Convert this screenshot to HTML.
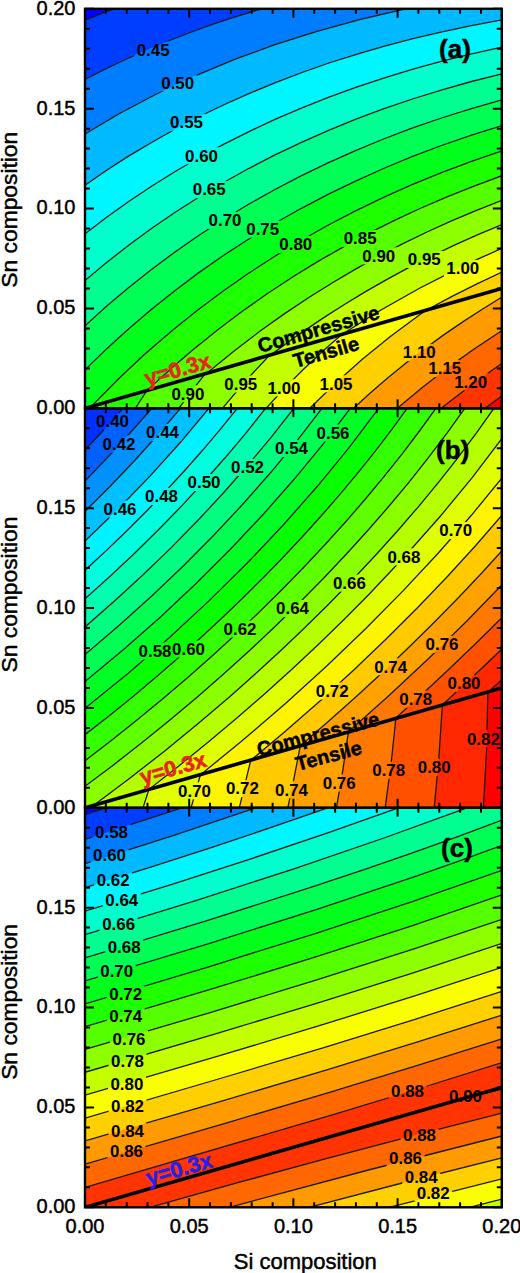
<!DOCTYPE html><html><head><meta charset="utf-8"><style>
html,body{margin:0;padding:0;background:#fff;}
svg{display:block}
text{font-family:"Liberation Sans", sans-serif;}
.lb{font-size:16.9px;font-weight:bold;text-anchor:middle;fill:#000;}
.tk{font-size:20px;fill:#000;stroke:#000;stroke-width:0.45px;}
.at{font-size:22px;fill:#000;stroke:#000;stroke-width:0.45px;}
.pl{font-size:26px;font-weight:bold;fill:#000;stroke:#000;stroke-width:0.5px;}
.ct{font-size:20px;font-weight:bold;fill:#000;stroke:#000;stroke-width:0.5px;}
.yx{font-size:22px;font-weight:bold;}
</style></head><body><svg width="520" height="1273" viewBox="0 0 520 1273"><rect width="520" height="1273" fill="#fff"/>
<clipPath id="clipa"><rect x="85.0" y="8.8" width="416.8" height="399.5"/></clipPath>
<mask id="maska" maskUnits="userSpaceOnUse" x="0" y="0" width="520" height="1273"><rect x="0" y="0" width="520" height="1273" fill="#fff"/><rect x="134.2" y="41.5" width="37.9" height="17" fill="#000"/><rect x="158.8" y="74.2" width="37.9" height="17" fill="#000"/><rect x="167.6" y="113.8" width="37.9" height="17" fill="#000"/><rect x="182.6" y="147.3" width="37.9" height="17" fill="#000"/><rect x="190.3" y="181.1" width="37.9" height="17" fill="#000"/><rect x="206.1" y="211.9" width="37.9" height="17" fill="#000"/><rect x="243.8" y="220.7" width="37.9" height="17" fill="#000"/><rect x="276.9" y="236.1" width="37.9" height="17" fill="#000"/><rect x="341.2" y="229.9" width="37.9" height="17" fill="#000"/><rect x="359.9" y="247.3" width="37.9" height="17" fill="#000"/><rect x="405.4" y="251.0" width="37.9" height="17" fill="#000"/><rect x="443.9" y="260.0" width="37.9" height="17" fill="#000"/><rect x="169.0" y="385.2" width="37.9" height="17" fill="#000"/><rect x="221.9" y="375.5" width="37.9" height="17" fill="#000"/><rect x="265.1" y="379.3" width="37.9" height="17" fill="#000"/><rect x="317.1" y="375.3" width="37.9" height="17" fill="#000"/><rect x="400.4" y="344.1" width="37.9" height="17" fill="#000"/><rect x="425.9" y="360.0" width="37.9" height="17" fill="#000"/><rect x="451.7" y="373.3" width="37.9" height="17" fill="#000"/></mask>
<g clip-path="url(#clipa)">
<rect x="85.0" y="8.8" width="416.8" height="399.5" fill="#0000ff"/>
<path d="M113 9.1L113.9 8.8 502 8.8 502 408.3 85 408.3 85 20.1 112.5 9.3Z" fill="#003eff" fill-rule="evenodd"/>
<path d="M260 9.2L261.4 8.8 502 8.8 502 408.3 85 408.3 85 79.4 105 69.2 125.8 59.3 147 49.8 168.5 40.9 190.5 32.4 213 24.3 236 16.6 259.7 9.3Z" fill="#007cff" fill-rule="evenodd"/>
<path d="M403.5 9.3L405.7 8.8 502 8.8 502 408.3 85 408.3 85 134 120 113.3 156 94.3 194 76.3 233 60.1 273.5 45.2 315.5 31.7 358.7 19.8 403.4 9.3Z" fill="#00b9ff" fill-rule="evenodd"/>
<path d="M500 20.2L502 19.9 502 408.3 85 408.3 85 185.2 106.7 170.3 129 155.9 152 142.2 175.5 129 199.5 116.5 224 104.7 249 93.5 274.5 83 300.5 73 327.5 63.5 355 54.7 383 46.5 411.5 39 440.5 32.1 470 25.9 499.6 20.3Z" fill="#00f6ff" fill-rule="evenodd"/>
<path d="M501.5 47.2L502 47.1 502 408.3 85 408.3 85 233.8 106.7 217.3 129.1 201.3 152 186 175.5 171.3 199.5 157.4 224 144.1 249 131.6 275 119.4 301 108.2 328 97.5 355.5 87.4 383.5 78.1 412 69.4 441 61.4 471 54 501.2 47.3Z" fill="#00ffcc" fill-rule="evenodd"/>
<path d="M502 73.8L502 408.3 85 408.3 85 280.5 109 260.6 129.9 244.3 151.1 228.8 173 213.8 195.4 199.3 218 185.7 241.5 172.4 265.3 159.8 289.7 147.8 314.5 136.4 340 125.6 365.5 115.5 392 105.9 418.5 97.1 446 88.6 473.5 81 502 73.8Z" fill="#00ff90" fill-rule="evenodd"/>
<path d="M501 100.2L502 99.9 502 408.3 85 408.3 85 325.8 104 308.5 123.5 291.8 143.3 275.8 163.6 260.3 182 247 201 234 220 221.7 239.5 209.7 259.5 198 279.5 187 300 176.4 321 166.1 342.4 156.3 364 146.9 386 138 408 129.7 430.5 121.7 453.5 114.1 477 107 500.7 100.3Z" fill="#00ff55" fill-rule="evenodd"/>
<path d="M501.5 125.8L502 125.6 502 408.3 85 408.3 85 369.9 100.9 354.3 116.9 339.3 133.5 324.5 150.2 310.3 167.5 296.3 185 282.9 202.9 269.8 221 257.2 253 236.4 285.5 217.1 319.3 198.8 353.8 181.8 389.5 165.9 426 151.3 463 138 501.4 125.8Z" fill="#00ff1b" fill-rule="evenodd"/>
<path d="M501 151.2L502 150.9 502 408.3 91.8 408.3 92.9 406.3 91.9 405.8 120.1 377.3 145.5 353.6 172 330.7 196.5 311 221.4 292.3 247.1 274.3 273.5 257.1 300 241 327 225.8 354.5 211.4 382.5 197.8 411 185.1 440.5 173 470.5 161.7 500.7 151.3ZM91.5 406.2L91.4 406.3Z" fill="#1eff00" fill-rule="evenodd"/>
<path d="M502 175.7L502 408.3 135.3 408.3 146.7 390.8 172 367.8 193.6 349.3 217.5 330 242.3 311.3 267.5 293.6 293.5 276.5 317.5 261.7 342.5 247.3 368 233.6 393.7 220.8 420 208.5 446.5 197.1 474 186.1 501.8 175.8Z" fill="#56ff00" fill-rule="evenodd"/>
<path d="M502 200.3L502 408.3 178.8 408.3 191.8 390.8 205.2 373.8 207.4 372.8 233.5 351.4 260.5 330.8 285 313.4 310 296.7 332.5 282.7 355.5 269.1 378.7 256.3 402.5 243.9 427 232 451.5 220.9 476.5 210.3 501.9 200.3Z" fill="#8dff00" fill-rule="evenodd"/>
<path d="M501.5 224.7L502 224.5 502 408.3 222.4 408.3 245.7 380.8 269.5 355.3 270.9 354.8 296.5 336.1 322.7 318.3 343.5 305 365 291.9 387 279.4 409 267.5 431.5 256 454.5 245.1 477.5 234.7 501.2 224.8Z" fill="#c4ff00" fill-rule="evenodd"/>
<path d="M501.5 248.6L502 248.4 502 408.3 266.1 408.3 284 388.9 302.5 370.2 321.5 352.3 341.4 334.8 380.5 310.3 419.3 288.3 459.5 267.8 501.1 248.8Z" fill="#f9ff00" fill-rule="evenodd"/>
<path d="M501.5 272.3L502 272.1 502 408.3 309.8 408.3 335.4 383.3 362 359.6 389.5 337.2 418.5 315.6 426.1 310.3 450.5 297.2 476 284.3 501.5 272.3Z" fill="#ffd000" fill-rule="evenodd"/>
<path d="M502 297.1L502 408.3 353.5 408.3 370.5 392.8 387.9 377.8 405.7 363.3 423.9 349.3 442.5 335.8 462 322.4 481.5 309.7 501.7 297.3Z" fill="#ff9b00" fill-rule="evenodd"/>
<path d="M501.5 330.8L502 330.5 502 408.3 397.3 408.3 422 387.7 447.5 368 474 349 501.5 330.8Z" fill="#ff6700" fill-rule="evenodd"/>
<path d="M501.5 363.7L502 363.3 502 408.3 441.1 408.3 470.5 385.6 501.3 363.8Z" fill="#ff3400" fill-rule="evenodd"/>
<path d="M501.5 396.2L502 395.8 502 408.3 485 408.3 501.3 396.3Z" fill="#ff0000" fill-rule="evenodd"/>
<path d="M85 20.1L113.9 8.8M85 79.4L105.5 69 126.5 59 147.5 49.6 169.5 40.5 191.5 32 214.5 23.7 237.5 16.1 261.4 8.8M85 134L120 113.3 156.5 94 194.5 76.1 234 59.7 275 44.7 317 31.3 360.5 19.3 405.7 8.8M85 185.2L106.7 170.3 129 155.9 152 142.2 175.5 129 199.5 116.5 224.5 104.5 250 93.1 275.5 82.6 302 72.5 329 63 356.5 54.3 384.5 46.1 413 38.6 442 31.8 471.5 25.6 502 19.9M85 233.8L106.7 217.3 129.1 201.3 152 186 175.6 171.3 199.7 157.3 224.5 143.9 249.5 131.3 275.5 119.2 302 107.8 329 97.1 356.5 87.1 384.5 77.8 413 69.1 442 61.1 471.7 53.8 502 47.1M85 280.5L106.9 262.3 129 245 151.8 228.3 175.2 212.3 199.5 196.8 224 182.2 249.1 168.3 275 154.9 301.5 142.3 328.5 130.4 356 119.2 384 108.7 412.5 99 442 89.8 471.5 81.5 502 73.8M85 325.8L106.5 306.3 128.5 287.7 151.5 269.4 175 252 199 235.3 223.5 219.5 248.6 204.3 274.5 189.7 301 175.9 328 162.8 355.5 150.6 383.5 139 412 128.2 441.5 118 471.5 108.6 502 99.9M85 369.9L106.5 348.9 128.5 328.9 151 309.7 174.5 290.9 198.5 272.9 223 255.8 248 239.5 274 223.7 300.5 208.8 327.5 194.6 355 181.3 383.5 168.5 412 156.7 441.5 145.5 471.5 135.2 502 125.6M91.8 408.3L92.9 406.3 91.9 405.8 120.1 377.3 145.5 353.6 172 330.7 196.5 311 221.5 292.2 247.5 274 274 256.8 300.5 240.7 327.5 225.5 355 211.1 383 197.6 412 184.7 441.5 172.6 471.5 161.3 502 150.9M91.5 406.2L91.4 406.3ZM135.3 408.3L146.7 390.8 172 367.8 193.6 349.3 217.5 330 242.3 311.3 267.9 293.3 293.8 276.3 318 261.4 343 247.1 368 233.6 394 220.6 420 208.5 447 196.9 474 186.1 502 175.7M178.8 408.3L191.8 390.8 205.2 373.8 207.4 372.8 233.5 351.4 260.5 330.8 285 313.4 310 296.7 332.5 282.7 355.5 269.1 378.7 256.3 402.5 243.9 427 232 451.5 220.9 476.5 210.3 502 200.3M222.4 408.3L245.7 380.8 269.5 355.3 270.9 354.8 296.5 336.1 323 318.1 344 304.7 365.5 291.6 387.5 279.1 409.5 267.2 432 255.8 455 244.8 478.5 234.3 502 224.5M266.1 408.3L284 388.9 302.5 370.2 321.5 352.3 341.4 334.8 380.5 310.3 419.5 288.2 460 267.6 481 257.7 502 248.4M309.8 408.3L335.5 383.2 362.3 359.3 390 336.8 419 315.3 426.1 310.3 452 296.4 477 283.8 502 272.1M353.5 408.3L370.5 392.8 387.9 377.8 405.7 363.3 424 349.2 443 335.4 462 322.4 481.5 309.7 502 297.1M397.3 408.3L422 387.7 448 367.6 474.5 348.7 502 330.5M441.1 408.3L471 385.3 502 363.3M485 408.3L502 395.8" fill="none" stroke="#1a1a1a" stroke-width="1.3" mask="url(#maska)"/>
<line x1="85.0" y1="408.3" x2="501.8" y2="288.5" stroke="#000" stroke-width="3.6"/>
</g>
<text x="153.1" y="55.8" class="lb">0.45</text>
<text x="177.7" y="88.5" class="lb">0.50</text>
<text x="186.5" y="128.1" class="lb">0.55</text>
<text x="201.5" y="161.6" class="lb">0.60</text>
<text x="209.2" y="195.4" class="lb">0.65</text>
<text x="225.0" y="226.2" class="lb">0.70</text>
<text x="262.7" y="235.0" class="lb">0.75</text>
<text x="295.8" y="250.4" class="lb">0.80</text>
<text x="360.1" y="244.2" class="lb">0.85</text>
<text x="378.8" y="261.6" class="lb">0.90</text>
<text x="424.3" y="265.3" class="lb">0.95</text>
<text x="462.8" y="274.3" class="lb">1.00</text>
<text x="187.9" y="399.5" class="lb">0.90</text>
<text x="240.8" y="389.8" class="lb">0.95</text>
<text x="284.0" y="393.6" class="lb">1.00</text>
<text x="336.0" y="389.6" class="lb">1.05</text>
<text x="419.3" y="358.4" class="lb">1.10</text>
<text x="444.8" y="374.3" class="lb">1.15</text>
<text x="470.6" y="387.6" class="lb">1.20</text>
<clipPath id="clipb"><rect x="85.0" y="408.3" width="416.8" height="399.5"/></clipPath>
<mask id="maskb" maskUnits="userSpaceOnUse" x="0" y="0" width="520" height="1273"><rect x="0" y="0" width="520" height="1273" fill="#fff"/><rect x="93.6" y="413.0" width="37.9" height="17" fill="#000"/><rect x="100.1" y="435.5" width="37.9" height="17" fill="#000"/><rect x="143.6" y="424.0" width="37.9" height="17" fill="#000"/><rect x="101.1" y="500.5" width="37.9" height="17" fill="#000"/><rect x="142.6" y="488.0" width="37.9" height="17" fill="#000"/><rect x="185.1" y="474.0" width="37.9" height="17" fill="#000"/><rect x="228.6" y="459.0" width="37.9" height="17" fill="#000"/><rect x="272.6" y="440.0" width="37.9" height="17" fill="#000"/><rect x="314.1" y="424.5" width="37.9" height="17" fill="#000"/><rect x="136.1" y="642.5" width="37.9" height="17" fill="#000"/><rect x="169.6" y="640.5" width="37.9" height="17" fill="#000"/><rect x="221.1" y="620.5" width="37.9" height="17" fill="#000"/><rect x="273.6" y="600.0" width="37.9" height="17" fill="#000"/><rect x="330.5" y="574.6" width="37.9" height="17" fill="#000"/><rect x="385.0" y="548.4" width="37.9" height="17" fill="#000"/><rect x="436.8" y="522.1" width="37.9" height="17" fill="#000"/><rect x="313.3" y="682.5" width="37.9" height="17" fill="#000"/><rect x="371.7" y="658.2" width="37.9" height="17" fill="#000"/><rect x="423.1" y="635.8" width="37.9" height="17" fill="#000"/><rect x="396.8" y="690.7" width="37.9" height="17" fill="#000"/><rect x="445.1" y="675.0" width="37.9" height="17" fill="#000"/><rect x="175.6" y="782.3" width="37.9" height="17" fill="#000"/><rect x="223.5" y="780.1" width="37.9" height="17" fill="#000"/><rect x="272.6" y="781.3" width="37.9" height="17" fill="#000"/><rect x="320.3" y="774.5" width="37.9" height="17" fill="#000"/><rect x="369.8" y="761.8" width="37.9" height="17" fill="#000"/><rect x="415.3" y="758.9" width="37.9" height="17" fill="#000"/><rect x="464.5" y="730.2" width="37.9" height="17" fill="#000"/></mask>
<g clip-path="url(#clipb)">
<rect x="85.0" y="408.3" width="416.8" height="399.5" fill="#0030ff"/>
<path d="M123 408.4L502 408.3 502 807.8 85 807.8 85 450 104 429.7 122.6 408.8Z" fill="#0061ff" fill-rule="evenodd"/>
<path d="M151.5 408.7L151.9 408.3 502 408.3 502 807.8 85 807.8 85 481.1 119.2 445.3 151.4 408.8Z" fill="#0091ff" fill-rule="evenodd"/>
<path d="M180.5 408.3L502 408.3 502 807.8 85 807.8 85 511.4 110.2 486.3 134.5 460.8 157.9 434.8 180.5 408.3Z" fill="#00c1ff" fill-rule="evenodd"/>
<path d="M209 408.3L502 408.3 502 807.8 85 807.8 85 541.1 118.4 508.8 150 476.1 180.5 442.3 208.9 408.3Z" fill="#00f1ff" fill-rule="evenodd"/>
<path d="M237 408.7L237.3 408.3 502 408.3 502 807.8 85 807.8 85 570.2 106 550.9 126.4 531.3 146.4 511.3 165.5 491.4 184.5 470.8 202.5 450.4 219.9 429.8 236.9 408.8Z" fill="#00ffde" fill-rule="evenodd"/>
<path d="M265.5 408.4L502 408.3 502 807.8 85 807.8 85 598.8 110.1 576.3 134.6 553.3 158.5 529.8 181.3 506.3 203.5 482.3 225 458 245.5 433.5 265.2 408.8Z" fill="#00ffaf" fill-rule="evenodd"/>
<path d="M293.5 408.7L293.8 408.3 502 408.3 502 807.8 85 807.8 85 626.9 114.5 601.1 143.1 574.8 171 547.9 197.5 520.8 223.1 493.3 247.8 465.3 271.1 437.3 293.4 408.8Z" fill="#00ff81" fill-rule="evenodd"/>
<path d="M322 408.4L502 408.3 502 807.8 85 807.8 85 654.5 118.7 625.8 151.5 596.3 183 566.3 213.7 535.3 242.7 504.3 270.5 472.8 296.9 440.8 321.7 408.8Z" fill="#00ff53" fill-rule="evenodd"/>
<path d="M350 408.8L350.3 408.3 502 408.3 502 807.8 85 807.8 85 681.6 123.3 649.8 160.5 616.9 196.3 583.3 230.4 549.3 262.9 514.8 293.7 479.8 322.9 444.3 350 408.8Z" fill="#00ff25" fill-rule="evenodd"/>
<path d="M378.5 408.6L378.7 408.3 502 408.3 502 807.8 85 807.8 85 708.3 127.5 673.8 169.1 637.8 209 600.9 247.1 563.3 283 525.3 317 486.8 348.9 447.8 378.4 408.8Z" fill="#08ff00" fill-rule="evenodd"/>
<path d="M407 408.6L407.2 408.3 502 408.3 502 807.8 85 807.8 85 734.7 109 715.9 132.5 696.9 155.5 677.6 178.4 657.8 200.7 637.8 222.2 617.8 243.6 597.3 264.2 576.8 284.1 556.3 303.7 535.3 322.6 514.3 340.8 493.3 358.3 472.3 375.1 451.3 391.1 430.3 406.9 408.8Z" fill="#34ff00" fill-rule="evenodd"/>
<path d="M436 408.3L502 408.3 502 807.8 85 807.8 85 760.7 111 740.7 137 720.1 162.5 699.1 187.5 677.8 211.8 656.3 235.8 634.3 259 612.3 281.8 589.8 303.8 567.3 324.9 544.8 345.5 522 365.2 499.3 384 476.7 402.2 453.8 419.5 431 435.9 408.3Z" fill="#60ff00" fill-rule="evenodd"/>
<path d="M464.5 408.7L464.8 408.3 502 408.3 502 807.8 85 807.8 85 786.3 113.5 764.9 141.5 743 169 720.8 196.4 697.8 223 674.6 249 651.1 274.3 627.3 299 603.2 322.6 579.3 345.8 554.8 367.6 530.8 388.9 506.3 409.3 481.8 428.5 457.6 446.9 433.3 464.4 408.8Z" fill="#8bff00" fill-rule="evenodd"/>
<path d="M494 408.3L502 408.3 502 807.8 95.1 807.8 96.2 804.8 95.5 804.5 95 805 94.4 804.8 129.1 778.8 163.5 751.9 197.3 724.3 230 696.4 255.5 673.8 280 651.3 303.7 628.8 327.1 605.8 351.1 581.3 374.6 556.3 397 531.5 418.3 506.8 438.9 481.8 458.2 457.3 476.5 432.8 493.9 408.3Z" fill="#b6ff00" fill-rule="evenodd"/>
<path d="M502 438.5L502 807.8 143 807.8 149 789.3 178.5 766.2 208 742.3 236.6 718.3 264.5 694 291.9 669.3 318.5 644.4 344.3 619.3 369 594.4 405.8 555.3 440.3 516.3 472.4 477.3 501.8 438.8Z" fill="#e0ff00" fill-rule="evenodd"/>
<path d="M502 477.9L502 807.8 191.1 807.8 200.4 774.8 241.5 741.3 285.5 703.4 326.5 666.2 366.1 628.3 403.2 590.8 438.1 553.3 471 515.8 501.7 478.3Z" fill="#fff400" fill-rule="evenodd"/>
<path d="M502 515.3L502 807.8 239.3 807.8 250.7 760.3 283.6 732.8 320 700.9 354 669.8 386.4 638.8 417.5 607.8 447.2 576.8 475.5 545.8 502 515.3Z" fill="#ffcb00" fill-rule="evenodd"/>
<path d="M502 550.8L502 807.8 287.8 807.8 293.5 780.8 300.3 745.8 328 721.8 355.5 697.3 381.6 673.3 407.4 648.8 432.3 624.3 456.4 599.8 479.6 575.3 501.6 551.3Z" fill="#ffa200" fill-rule="evenodd"/>
<path d="M502 584.8L502 807.8 336.4 807.8 342.9 769.8 348.4 731.8 389.3 695.3 428.9 658.3 466.1 621.8 501.6 585.3Z" fill="#ff7900" fill-rule="evenodd"/>
<path d="M502 617.5L502 807.8 385.2 807.8 391.6 758.8 395 726.8 395.7 718.8 395.5 718.3 423.5 693 450.5 667.8 476.5 642.8 501.7 617.8Z" fill="#ff5100" fill-rule="evenodd"/>
<path d="M502 649L502 807.8 434.2 807.8 438.8 758.8 442.4 704.8 472.8 676.8 501.7 649.3Z" fill="#ff2800" fill-rule="evenodd"/>
<path d="M502 679.5L502 807.8 483.4 807.8 486.5 751.3 487.9 692.3 501.7 679.8Z" fill="#ff0000" fill-rule="evenodd"/>
<path d="M85 450L104.4 429.3 123.1 408.3M85 481.1L119.2 445.3 151.9 408.3M85 511.4L110.2 486.3 134.5 460.8 157.9 434.8 180.5 408.3M85 541.1L118.4 508.8 150 476.1 180.5 442.3 208.9 408.3M85 570.2L106 550.9 126.4 531.3 146.4 511.3 165.6 491.3 184.5 470.8 202.6 450.3 220.3 429.3 237.3 408.3M85 598.8L110.1 576.3 134.6 553.3 158.5 529.8 181.5 506.1 203.5 482.3 225.1 457.8 245.7 433.3 265.6 408.3M85 626.9L114.5 601.1 143.1 574.8 171 547.9 197.5 520.8 223.1 493.3 248 465 271.5 436.8 293.8 408.3M85 654.5L118.7 625.8 151.5 596.3 183.5 565.8 214 535 243.2 503.8 270.9 472.3 297.3 440.3 322 408.3M85 681.6L123.3 649.8 160.5 616.9 196.3 583.3 230.4 549.3 263.3 514.3 294.1 479.3 323.3 443.8 350.3 408.3M85 708.3L128 673.4 169.5 637.4 209.5 600.4 247.5 562.8 283.5 524.8 317.4 486.3 349.3 447.3 378.7 408.3M85 734.7L109 715.9 132.5 696.9 155.5 677.6 178.4 657.8 200.7 637.8 222.5 617.5 243.6 597.3 264.5 576.5 284.6 555.8 304.2 534.8 323.1 513.8 341.2 492.8 358.7 471.8 375.5 450.8 391.5 429.8 407.2 408.3M85 760.7L111 740.7 137 720.1 162.5 699.1 187.5 677.8 211.8 656.3 235.8 634.3 259 612.3 281.8 589.8 303.8 567.3 324.9 544.8 345.5 522 365.2 499.3 384 476.7 402.2 453.8 419.5 431 435.9 408.3M85 786.3L113.5 764.9 141.5 743 169 720.8 196.5 697.7 223.3 674.3 249.3 650.8 274.8 626.8 299.4 602.8 323.1 578.8 346.2 554.3 368 530.3 389.3 505.8 409.7 481.3 429 456.9 447.2 432.8 464.8 408.3M95.1 807.8L96.2 804.8 95.5 804.5 95 805 94.4 804.8 129.1 778.8 163.5 751.9 197.3 724.3 230 696.4 255.5 673.8 280 651.3 303.7 628.8 327.1 605.8 351.1 581.3 374.6 556.3 397 531.5 418.3 506.8 438.9 481.8 458.2 457.3 476.5 432.8 493.9 408.3M143 807.8L149 789.3 178.5 766.2 208 742.3 236.6 718.3 264.5 694 291.9 669.3 318.6 644.3 344.3 619.3 369.1 594.3 405.8 555.3 440.3 516.3 472.4 477.3 502 438.5M191.1 807.8L200.4 774.8 241.5 741.3 285.5 703.4 326.5 666.2 366.1 628.3 403.5 590.4 438.6 552.8 471.4 515.3 502 477.9M239.3 807.8L250.7 760.3 283.6 732.8 320 700.9 354 669.8 386.4 638.8 417.5 607.8 447.2 576.8 475.5 545.8 502 515.3M287.8 807.8L293.5 780.8 300.3 745.8 328 721.8 355.5 697.3 382.1 672.8 407.9 648.3 432.8 623.8 456.9 599.3 480.1 574.8 502 550.8M336.4 807.8L342.9 769.8 348.4 731.8 389.3 695.3 428.9 658.3 466.6 621.3 502 584.8M385.2 807.8L391.6 758.8 395 726.8 395.7 718.8 395.5 718.3 423.5 693 450.5 667.8 476.5 642.8 502 617.5M434.2 807.8L438.8 758.8 442.4 704.8 472.8 676.8 502 649M483.4 807.8L486.5 751.3 487.9 692.3 502 679.5" fill="none" stroke="#1a1a1a" stroke-width="1.3" mask="url(#maskb)"/>
<line x1="85.0" y1="807.8" x2="501.8" y2="687.9" stroke="#000" stroke-width="3.6"/>
</g>
<text x="112.5" y="427.3" class="lb">0.40</text>
<text x="119.0" y="449.8" class="lb">0.42</text>
<text x="162.5" y="438.3" class="lb">0.44</text>
<text x="120.0" y="514.8" class="lb">0.46</text>
<text x="161.5" y="502.3" class="lb">0.48</text>
<text x="204.0" y="488.3" class="lb">0.50</text>
<text x="247.5" y="473.3" class="lb">0.52</text>
<text x="291.5" y="454.3" class="lb">0.54</text>
<text x="333.0" y="438.8" class="lb">0.56</text>
<text x="155.0" y="656.8" class="lb">0.58</text>
<text x="188.5" y="654.8" class="lb">0.60</text>
<text x="240.0" y="634.8" class="lb">0.62</text>
<text x="292.5" y="614.3" class="lb">0.64</text>
<text x="349.4" y="588.9" class="lb">0.66</text>
<text x="403.9" y="562.7" class="lb">0.68</text>
<text x="455.7" y="536.4" class="lb">0.70</text>
<text x="332.2" y="696.8" class="lb">0.72</text>
<text x="390.6" y="672.5" class="lb">0.74</text>
<text x="442.0" y="650.1" class="lb">0.76</text>
<text x="415.7" y="705.0" class="lb">0.78</text>
<text x="464.0" y="689.3" class="lb">0.80</text>
<text x="194.5" y="796.6" class="lb">0.70</text>
<text x="242.4" y="794.4" class="lb">0.72</text>
<text x="291.5" y="795.6" class="lb">0.74</text>
<text x="339.2" y="788.8" class="lb">0.76</text>
<text x="388.7" y="776.1" class="lb">0.78</text>
<text x="434.2" y="773.2" class="lb">0.80</text>
<text x="483.4" y="744.5" class="lb">0.82</text>
<clipPath id="clipc"><rect x="85.0" y="807.8" width="416.8" height="399.5"/></clipPath>
<mask id="maskc" maskUnits="userSpaceOnUse" x="0" y="0" width="520" height="1273"><rect x="0" y="0" width="520" height="1273" fill="#fff"/><rect x="92.6" y="824.0" width="37.9" height="17" fill="#000"/><rect x="90.6" y="846.5" width="37.9" height="17" fill="#000"/><rect x="94.2" y="871.7" width="37.9" height="17" fill="#000"/><rect x="102.9" y="892.1" width="37.9" height="17" fill="#000"/><rect x="99.7" y="915.7" width="37.9" height="17" fill="#000"/><rect x="105.2" y="938.8" width="37.9" height="17" fill="#000"/><rect x="97.8" y="962.9" width="37.9" height="17" fill="#000"/><rect x="106.8" y="986.0" width="37.9" height="17" fill="#000"/><rect x="106.8" y="1007.2" width="37.9" height="17" fill="#000"/><rect x="110.1" y="1030.3" width="37.9" height="17" fill="#000"/><rect x="108.6" y="1052.5" width="37.9" height="17" fill="#000"/><rect x="108.0" y="1075.7" width="37.9" height="17" fill="#000"/><rect x="108.6" y="1097.9" width="37.9" height="17" fill="#000"/><rect x="108.6" y="1122.7" width="37.9" height="17" fill="#000"/><rect x="107.6" y="1142.5" width="37.9" height="17" fill="#000"/><rect x="388.6" y="1082.3" width="37.9" height="17" fill="#000"/><rect x="446.6" y="1087.8" width="37.9" height="17" fill="#000"/><rect x="400.6" y="1126.9" width="37.9" height="17" fill="#000"/><rect x="386.6" y="1150.0" width="37.9" height="17" fill="#000"/><rect x="402.3" y="1168.4" width="37.9" height="17" fill="#000"/><rect x="414.3" y="1184.4" width="37.9" height="17" fill="#000"/></mask>
<g clip-path="url(#clipc)">
<rect x="85.0" y="807.8" width="416.8" height="399.5" fill="#0000ff"/>
<path d="M105 808.2L106.2 807.8 502 807.8 502 1207.3 85 1207.3 85 814.7 104.6 808.3Z" fill="#003eff" fill-rule="evenodd"/>
<path d="M180.5 808.2L181.8 807.8 502 807.8 502 1207.3 85 1207.3 85 839.4 180.3 808.3Z" fill="#007cff" fill-rule="evenodd"/>
<path d="M254.5 808.2L255.7 807.8 502 807.8 502 1207.3 85 1207.3 85 863.7 173.5 835.4 254.3 808.3Z" fill="#00b9ff" fill-rule="evenodd"/>
<path d="M326.5 808.3L327.8 807.8 502 807.8 502 1207.3 85 1207.3 85 887.6 151.5 866.8 213 846.9 271.5 827.4 326.4 808.3Z" fill="#00f6ff" fill-rule="evenodd"/>
<path d="M397 808.3L398.3 807.8 502 807.8 502 1207.3 85 1207.3 85 911.2 173 884 253 858.1 327.5 833 396.9 808.3Z" fill="#00ffcc" fill-rule="evenodd"/>
<path d="M466 808.2L467 807.8 502 807.8 502 1207.3 85 1207.3 85 934.7 195 900.8 293 869.2 383 838.4 465.7 808.3Z" fill="#00ff90" fill-rule="evenodd"/>
<path d="M502 820.1L502 1207.3 85 1207.3 85 957.9 206.6 920.8 314.1 886.3 364 869.6 412 853 457.5 836.7 501.6 820.3Z" fill="#00ff55" fill-rule="evenodd"/>
<path d="M501 845.8L502 845.4 502 1207.3 85 1207.3 85 980.9 207.5 943.9 314.5 910.1 411.5 877.7 457 861.7 501 845.8Z" fill="#00ff1b" fill-rule="evenodd"/>
<path d="M501 870.7L502 870.3 502 1207.3 85 1207.3 85 1003.9 208 967 315 933.6 411.8 901.8 500.7 870.8Z" fill="#1eff00" fill-rule="evenodd"/>
<path d="M501 895.3L502 894.9 502 1207.3 85 1207.3 85 1026.7 209.3 989.8 316.1 956.8 412.5 925.6 501 895.3Z" fill="#56ff00" fill-rule="evenodd"/>
<path d="M502 919.3L502 1207.3 85 1207.3 85 1049.5 211 1012.3 317.5 979.7 414 948.9 502 919.3Z" fill="#8dff00" fill-rule="evenodd"/>
<path d="M501 943.8L502 943.4 502 1207.3 85 1207.3 85 1072.3 212.5 1034.9 318.5 1002.7 414 972.6 500.9 943.8Z" fill="#c4ff00" fill-rule="evenodd"/>
<path d="M501 967.7L502 967.4 502 1199.2 469.3 1207.3 85 1207.3 85 1095.2 215 1057.1 320 1025.5 414.5 996 500.8 967.8Z" fill="#f9ff00" fill-rule="evenodd"/>
<path d="M502 991.3L502 1178.9 389.1 1207.3 85 1207.3 85 1118.1 218.5 1079 323 1047.8 416.6 1018.8 501.9 991.3Z" fill="#ffd000" fill-rule="evenodd"/>
<path d="M501.5 1015.2L502 1015.1 502 1157.9 406 1182 309.1 1207.3 85 1207.3 85 1141 222.5 1100.9 325.5 1070.2 417.5 1042 501.3 1015.3Z" fill="#ff9b00" fill-rule="evenodd"/>
<path d="M501 1039.2L502 1038.8 502 1136 366.5 1170.5 229.3 1207.3 85 1207.3 85 1164.2 228 1122.4 328.5 1092.6 419 1065 500.6 1039.3Z" fill="#ff6700" fill-rule="evenodd"/>
<path d="M501.5 1062.8L502 1062.6 502 1113.1 415.5 1135.1 328 1158.1 239.5 1182.2 149.8 1207.3 85 1207.3 85 1187.5 333.5 1114.4 422 1087.6 501.4 1062.8Z" fill="#ff3400" fill-rule="evenodd"/>
<path d="M501 1086.8L502 1086.5 502 1089.1 464.5 1098.6 464 1098.3 500.9 1086.8ZM462.5 1098.6L463.9 1098.8 462.5 1099.1 462.1 1098.8ZM461 1099.1L461.9 1099.3 460.7 1099.3ZM459 1099.7L459.9 1099.8 458.7 1099.8ZM457.5 1100.2L458 1100.3 457.3 1100.3ZM455.5 1100.7L456 1100.8 455.3 1100.8ZM454 1101.3L454 1101.3ZM452 1101.8L452 1101.8Z" fill="#ff0000" fill-rule="evenodd"/>
<path d="M85 814.7L106.2 807.8M85 839.4L181.8 807.8M85 863.7L173.8 835.3 255.7 807.8M85 887.6L151.5 866.8 213.5 846.8 272 827.2 327.8 807.8M85 911.2L173.5 883.8 254 857.8 328.5 832.6 398.3 807.8M85 934.7L195 900.8 294 868.8 384 838 467 807.8M85 957.9L207 920.7 314.5 886.2 364.8 869.3 412.5 852.8 458.5 836.3 502 820.1M85 980.9L208 943.8 315.4 909.8 412.6 877.3 458.2 861.3 502 845.4M85 1003.9L208.8 966.8 316 933.3 413 901.4 502 870.3M85 1026.7L209.5 989.7 316.5 956.7 413.3 925.3 502 894.9M85 1049.5L211 1012.3 317.5 979.7 414 948.9 502 919.3M85 1072.3L213 1034.7 319 1002.6 414.8 972.3 502 943.4M85 1095.2L215.5 1056.9 321 1025.2 415.5 995.6 502 967.4M502 1199.2L469.3 1207.3M85 1118.1L218.5 1079 323 1047.8 416.6 1018.8 502 991.3M502 1178.9L389.1 1207.3M85 1141L222.5 1100.9 326 1070.1 418.5 1041.7 502 1015.1M502 1157.9L406 1182 309.1 1207.3M502 1136L366.5 1170.5 229.3 1207.3M85 1164.2L228.5 1122.3 329.5 1092.3 420 1064.7 502 1038.8M502 1113.1L415.5 1135.1 328 1158.1 239.5 1182.2 149.8 1207.3M85 1187.5L334 1114.3 422.5 1087.5 502 1062.6M502 1089.1L464.5 1098.6 464 1098.3 502 1086.5M462.5 1098.6L463.9 1098.8 462.5 1099.1 462.1 1098.8ZM461 1099.1L461.9 1099.3 460.7 1099.3ZM459 1099.7L459.9 1099.8 458.7 1099.8ZM457.5 1100.2L458 1100.3 457.3 1100.3ZM455.5 1100.7L456 1100.8 455.3 1100.8ZM454 1101.3L454 1101.3ZM452 1101.8L452 1101.8Z" fill="none" stroke="#1a1a1a" stroke-width="1.3" mask="url(#maskc)"/>
<line x1="85.0" y1="1207.3" x2="501.8" y2="1087.5" stroke="#000" stroke-width="3.6"/>
</g>
<text x="111.5" y="838.3" class="lb">0.58</text>
<text x="109.5" y="860.8" class="lb">0.60</text>
<text x="113.1" y="886.0" class="lb">0.62</text>
<text x="121.8" y="906.4" class="lb">0.64</text>
<text x="118.6" y="930.0" class="lb">0.66</text>
<text x="124.1" y="953.1" class="lb">0.68</text>
<text x="116.7" y="977.2" class="lb">0.70</text>
<text x="125.7" y="1000.3" class="lb">0.72</text>
<text x="125.7" y="1021.5" class="lb">0.74</text>
<text x="129.0" y="1044.6" class="lb">0.76</text>
<text x="127.5" y="1066.8" class="lb">0.78</text>
<text x="126.9" y="1090.0" class="lb">0.80</text>
<text x="127.5" y="1112.2" class="lb">0.82</text>
<text x="127.5" y="1137.0" class="lb">0.84</text>
<text x="126.5" y="1156.8" class="lb">0.86</text>
<text x="407.5" y="1096.6" class="lb">0.88</text>
<text x="465.5" y="1102.1" class="lb">0.90</text>
<text x="419.5" y="1141.2" class="lb">0.88</text>
<text x="405.5" y="1164.3" class="lb">0.86</text>
<text x="421.2" y="1182.7" class="lb">0.84</text>
<text x="433.2" y="1198.7" class="lb">0.82</text>
<text x="455" y="58" class="pl" text-anchor="middle">(a)</text>
<text x="452.7" y="458.5" class="pl" text-anchor="middle">(b)</text>
<text x="457" y="856.7" class="pl" text-anchor="middle">(c)</text>
<text transform="translate(318.5,329) rotate(-16)" class="ct" text-anchor="middle" dominant-baseline="central">Compressive</text>
<text transform="translate(326,352) rotate(-16)" class="ct" text-anchor="middle" dominant-baseline="central">Tensile</text>
<text transform="translate(318,734) rotate(-14.5)" class="ct" text-anchor="middle" dominant-baseline="central">Compressive</text>
<text transform="translate(328.5,755.5) rotate(-15)" class="ct" text-anchor="middle" dominant-baseline="central">Tensile</text>
<text transform="translate(177.5,369.5) rotate(-16)" class="yx" fill="#e8241c" stroke="#e8241c" stroke-width="0.6" text-anchor="middle" dominant-baseline="central">y=0.3x</text>
<text transform="translate(173,768.2) rotate(-16)" class="yx" fill="#e8241c" stroke="#e8241c" stroke-width="0.6" text-anchor="middle" dominant-baseline="central">y=0.3x</text>
<text transform="translate(179,1169) rotate(-16)" class="yx" fill="#2222e6" stroke="#2222e6" stroke-width="0.6" text-anchor="middle" dominant-baseline="central">y=0.3x</text>
<path d="M85.0 408.3v-9M85.0 8.8v9M85.0 408.3h9M501.8 408.3h-9M105.8 408.3v-5M105.8 8.8v5M85.0 388.3h5M501.8 388.3h-5M126.7 408.3v-5M126.7 8.8v5M85.0 368.4h5M501.8 368.4h-5M147.5 408.3v-5M147.5 8.8v5M85.0 348.4h5M501.8 348.4h-5M168.4 408.3v-5M168.4 8.8v5M85.0 328.4h5M501.8 328.4h-5M189.2 408.3v-9M189.2 8.8v9M85.0 308.4h9M501.8 308.4h-9M210.0 408.3v-5M210.0 8.8v5M85.0 288.5h5M501.8 288.5h-5M230.9 408.3v-5M230.9 8.8v5M85.0 268.5h5M501.8 268.5h-5M251.7 408.3v-5M251.7 8.8v5M85.0 248.5h5M501.8 248.5h-5M272.6 408.3v-5M272.6 8.8v5M85.0 228.5h5M501.8 228.5h-5M293.4 408.3v-9M293.4 8.8v9M85.0 208.6h9M501.8 208.6h-9M314.2 408.3v-5M314.2 8.8v5M85.0 188.6h5M501.8 188.6h-5M335.1 408.3v-5M335.1 8.8v5M85.0 168.6h5M501.8 168.6h-5M355.9 408.3v-5M355.9 8.8v5M85.0 148.6h5M501.8 148.6h-5M376.8 408.3v-5M376.8 8.8v5M85.0 128.7h5M501.8 128.7h-5M397.6 408.3v-9M397.6 8.8v9M85.0 108.7h9M501.8 108.7h-9M418.4 408.3v-5M418.4 8.8v5M85.0 88.7h5M501.8 88.7h-5M439.3 408.3v-5M439.3 8.8v5M85.0 68.7h5M501.8 68.7h-5M460.1 408.3v-5M460.1 8.8v5M85.0 48.8h5M501.8 48.8h-5M481.0 408.3v-5M481.0 8.8v5M85.0 28.8h5M501.8 28.8h-5M501.8 408.3v-9M501.8 8.8v9M85.0 8.8h9M501.8 8.8h-9M85.0 807.8v-9M85.0 408.3v9M85.0 807.8h9M501.8 807.8h-9M105.8 807.8v-5M105.8 408.3v5M85.0 787.8h5M501.8 787.8h-5M126.7 807.8v-5M126.7 408.3v5M85.0 767.8h5M501.8 767.8h-5M147.5 807.8v-5M147.5 408.3v5M85.0 747.9h5M501.8 747.9h-5M168.4 807.8v-5M168.4 408.3v5M85.0 727.9h5M501.8 727.9h-5M189.2 807.8v-9M189.2 408.3v9M85.0 707.9h9M501.8 707.9h-9M210.0 807.8v-5M210.0 408.3v5M85.0 687.9h5M501.8 687.9h-5M230.9 807.8v-5M230.9 408.3v5M85.0 668.0h5M501.8 668.0h-5M251.7 807.8v-5M251.7 408.3v5M85.0 648.0h5M501.8 648.0h-5M272.6 807.8v-5M272.6 408.3v5M85.0 628.0h5M501.8 628.0h-5M293.4 807.8v-9M293.4 408.3v9M85.0 608.0h9M501.8 608.0h-9M314.2 807.8v-5M314.2 408.3v5M85.0 588.1h5M501.8 588.1h-5M335.1 807.8v-5M335.1 408.3v5M85.0 568.1h5M501.8 568.1h-5M355.9 807.8v-5M355.9 408.3v5M85.0 548.1h5M501.8 548.1h-5M376.8 807.8v-5M376.8 408.3v5M85.0 528.1h5M501.8 528.1h-5M397.6 807.8v-9M397.6 408.3v9M85.0 508.2h9M501.8 508.2h-9M418.4 807.8v-5M418.4 408.3v5M85.0 488.2h5M501.8 488.2h-5M439.3 807.8v-5M439.3 408.3v5M85.0 468.2h5M501.8 468.2h-5M460.1 807.8v-5M460.1 408.3v5M85.0 448.2h5M501.8 448.2h-5M481.0 807.8v-5M481.0 408.3v5M85.0 428.3h5M501.8 428.3h-5M501.8 807.8v-9M501.8 408.3v9M85.0 408.3h9M501.8 408.3h-9M85.0 1207.3v-9M85.0 807.8v9M85.0 1207.3h9M501.8 1207.3h-9M105.8 1207.3v-5M105.8 807.8v5M85.0 1187.3h5M501.8 1187.3h-5M126.7 1207.3v-5M126.7 807.8v5M85.0 1167.3h5M501.8 1167.3h-5M147.5 1207.3v-5M147.5 807.8v5M85.0 1147.4h5M501.8 1147.4h-5M168.4 1207.3v-5M168.4 807.8v5M85.0 1127.4h5M501.8 1127.4h-5M189.2 1207.3v-9M189.2 807.8v9M85.0 1107.4h9M501.8 1107.4h-9M210.0 1207.3v-5M210.0 807.8v5M85.0 1087.5h5M501.8 1087.5h-5M230.9 1207.3v-5M230.9 807.8v5M85.0 1067.5h5M501.8 1067.5h-5M251.7 1207.3v-5M251.7 807.8v5M85.0 1047.5h5M501.8 1047.5h-5M272.6 1207.3v-5M272.6 807.8v5M85.0 1027.5h5M501.8 1027.5h-5M293.4 1207.3v-9M293.4 807.8v9M85.0 1007.5h9M501.8 1007.5h-9M314.2 1207.3v-5M314.2 807.8v5M85.0 987.6h5M501.8 987.6h-5M335.1 1207.3v-5M335.1 807.8v5M85.0 967.6h5M501.8 967.6h-5M355.9 1207.3v-5M355.9 807.8v5M85.0 947.6h5M501.8 947.6h-5M376.8 1207.3v-5M376.8 807.8v5M85.0 927.6h5M501.8 927.6h-5M397.6 1207.3v-9M397.6 807.8v9M85.0 907.7h9M501.8 907.7h-9M418.4 1207.3v-5M418.4 807.8v5M85.0 887.7h5M501.8 887.7h-5M439.3 1207.3v-5M439.3 807.8v5M85.0 867.7h5M501.8 867.7h-5M460.1 1207.3v-5M460.1 807.8v5M85.0 847.8h5M501.8 847.8h-5M481.0 1207.3v-5M481.0 807.8v5M85.0 827.8h5M501.8 827.8h-5M501.8 1207.3v-9M501.8 807.8v9M85.0 807.8h9M501.8 807.8h-9" stroke="#000" stroke-width="2" fill="none"/>
<rect x="85.0" y="8.8" width="416.8" height="399.5" fill="none" stroke="#000" stroke-width="2.4"/>
<rect x="85.0" y="408.3" width="416.8" height="399.5" fill="none" stroke="#000" stroke-width="2.4"/>
<rect x="85.0" y="807.8" width="416.8" height="399.5" fill="none" stroke="#000" stroke-width="2.4"/>
<text x="75.5" y="414.1" class="tk" text-anchor="end">0.00</text>
<text x="75.5" y="314.2" class="tk" text-anchor="end">0.05</text>
<text x="75.5" y="214.4" class="tk" text-anchor="end">0.10</text>
<text x="75.5" y="114.5" class="tk" text-anchor="end">0.15</text>
<text x="75.5" y="14.6" class="tk" text-anchor="end">0.20</text>
<text transform="translate(17.2,209.7) rotate(-90)" class="at" style="font-size:22.8px" text-anchor="middle">Sn composition</text>
<text x="75.5" y="813.6" class="tk" text-anchor="end">0.00</text>
<text x="75.5" y="713.7" class="tk" text-anchor="end">0.05</text>
<text x="75.5" y="613.8" class="tk" text-anchor="end">0.10</text>
<text x="75.5" y="514.0" class="tk" text-anchor="end">0.15</text>
<text transform="translate(17.2,594.5) rotate(-90)" class="at" style="font-size:22.8px" text-anchor="middle">Sn composition</text>
<text x="75.5" y="1213.1" class="tk" text-anchor="end">0.00</text>
<text x="75.5" y="1113.2" class="tk" text-anchor="end">0.05</text>
<text x="75.5" y="1013.3" class="tk" text-anchor="end">0.10</text>
<text x="75.5" y="913.5" class="tk" text-anchor="end">0.15</text>
<text transform="translate(17.2,1001.9) rotate(-90)" class="at" style="font-size:22.8px" text-anchor="middle">Sn composition</text>
<text x="85.0" y="1232.5" class="tk" text-anchor="middle">0.00</text>
<text x="189.2" y="1232.5" class="tk" text-anchor="middle">0.05</text>
<text x="293.4" y="1232.5" class="tk" text-anchor="middle">0.10</text>
<text x="397.6" y="1232.5" class="tk" text-anchor="middle">0.15</text>
<text x="501.8" y="1232.5" class="tk" text-anchor="middle">0.20</text>
<text x="305.3" y="1268.8" class="at" text-anchor="middle">Si composition</text>
</svg></body></html>
